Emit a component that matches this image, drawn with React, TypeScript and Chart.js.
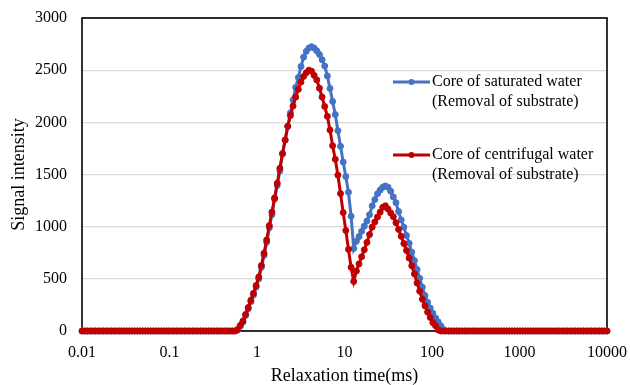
import { useEffect, useRef } from "react";
import { Chart, registerables } from "chart.js";

Chart.register(...registerables);

// T2 relaxation-time sampling grid (log-spaced between these bounds)
const T2_MIN = 0.01;
const T2_MAX = 10000;

const xTickValues = [0.01, 0.1, 1, 10, 100, 1000, 10000];
const yMax = 3000;
const yStep = 500;

const saturatedLegend = ["Core of saturated water", "(Removal of substrate)"];
const centrifugalLegend = ["Core of centrifugal water", "(Removal of substrate)"];

const BLUE = "#4472C4";
const RED = "#C00000";

// Signal intensity of the saturated core, one value per grid point
const saturatedWater = [
  0, 0, 0, 0, 0, 0, 0, 0, 0, 0,
  0, 0, 0, 0, 0, 0, 0, 0, 0, 0,
  0, 0, 0, 0, 0, 0, 0, 0, 0, 0,
  0, 0, 0, 0, 0, 0, 0, 0, 0, 0,
  0, 0, 0, 0, 0, 0, 0, 0, 0, 0,
  0, 0, 0, 0, 0, 0, 0, 0, 0,
  8, 45, 85, 148, 212, 280, 345, 420, 500, 610,
  725, 850, 990, 1115, 1265, 1395, 1535, 1700, 1830, 1965,
  2090, 2215, 2335, 2430, 2535, 2625, 2680, 2712, 2725, 2712,
  2685, 2650, 2600, 2540, 2445, 2325, 2200, 2075, 1920, 1770,
  1620, 1480, 1330, 1100, 790, 860, 905, 955, 1005, 1055,
  1115, 1200, 1260, 1315, 1350, 1378, 1390, 1378, 1340, 1285,
  1230, 1145, 1065, 995, 915, 840, 755, 675, 590, 505,
  420, 340, 275, 220, 170, 125, 88, 50, 15,
  0, 0, 0, 0, 0, 0, 0, 0, 0, 0,
  0, 0, 0, 0, 0, 0, 0, 0, 0, 0,
  0, 0, 0, 0, 0, 0, 0, 0, 0, 0,
  0, 0, 0, 0, 0, 0, 0, 0, 0, 0,
  0, 0, 0, 0, 0, 0, 0, 0, 0, 0,
  0, 0, 0, 0, 0, 0, 0, 0, 0, 0,
  0, 0,
];

// Signal intensity of the centrifuged core, same grid
const centrifugalWater = [
  0, 0, 0, 0, 0, 0, 0, 0, 0, 0,
  0, 0, 0, 0, 0, 0, 0, 0, 0, 0,
  0, 0, 0, 0, 0, 0, 0, 0, 0, 0,
  0, 0, 0, 0, 0, 0, 0, 0, 0, 0,
  0, 0, 0, 0, 0, 0, 0, 0, 0, 0,
  0, 0, 0, 0, 0, 0, 0, 0, 0,
  15, 54, 95, 159, 225, 294, 361, 436, 518, 628,
  745, 873, 1010, 1140, 1275, 1415, 1560, 1700, 1830, 1961,
  2065, 2156, 2243, 2316, 2386, 2440, 2475, 2500, 2490, 2450,
  2406, 2327, 2242, 2152, 2058, 1927, 1776, 1646, 1494, 1317,
  1135, 963, 782, 611, 475, 575, 643, 712, 779, 849,
  924, 996, 1045, 1093, 1139, 1185, 1200, 1170, 1132, 1096,
  1038, 974, 907, 838, 772, 699, 625, 547, 460, 382,
  304, 241, 181, 130, 80, 51, 10,
  0, 0, 0, 0, 0, 0, 0, 0, 0, 0,
  0, 0, 0, 0, 0, 0, 0, 0, 0, 0,
  0, 0, 0, 0, 0, 0, 0, 0, 0, 0,
  0, 0, 0, 0, 0, 0, 0, 0, 0, 0,
  0, 0, 0, 0, 0, 0, 0, 0, 0, 0,
  0, 0, 0, 0, 0, 0, 0, 0, 0, 0,
  0, 0, 0, 0,
];

const gridTimes = (n: number) =>
  Array.from({ length: n }, (_, i) => T2_MIN * Math.pow(T2_MAX / T2_MIN, i / (n - 1)));

const toPoints = (values: number[]) => {
  const times = gridTimes(values.length);
  return values.map((v, i) => ({ x: times[i], y: v }));
};

const SERIF = '"Liberation Serif", "Times New Roman", serif';

// Black frame around the plot area, drawn under the series
const framePlugin = {
  id: "plotFrame",
  beforeDatasetsDraw(chart: any) {
    const { ctx, chartArea } = chart;
    ctx.save();
    ctx.strokeStyle = "#000";
    ctx.lineWidth = 1.6;
    ctx.strokeRect(chartArea.left, chartArea.top, chartArea.right - chartArea.left, chartArea.bottom - chartArea.top);
    ctx.restore();
  },
};

// Legend placed inside the plot, two text lines per entry
const inlineLegendPlugin = {
  id: "inlineLegend",
  afterDraw(chart: any) {
    const { ctx, chartArea } = chart;
    const entries = [
      { lines: saturatedLegend, color: BLUE, dy: 64 },
      { lines: centrifugalLegend, color: RED, dy: 137 },
    ];
    ctx.save();
    ctx.font = `16px ${SERIF}`;
    ctx.textBaseline = "middle";
    ctx.textAlign = "left";
    entries.forEach((e) => {
      const y = chartArea.top + e.dy;
      const x0 = chartArea.right - 214;
      const x1 = chartArea.right - 177;
      ctx.strokeStyle = e.color;
      ctx.lineWidth = 3;
      ctx.beginPath();
      ctx.moveTo(x0, y);
      ctx.lineTo(x1, y);
      ctx.stroke();
      ctx.fillStyle = e.color;
      ctx.beginPath();
      ctx.arc((x0 + x1) / 2, y, 3, 0, Math.PI * 2);
      ctx.fill();
      ctx.fillStyle = "#000";
      e.lines.forEach((line, j) => ctx.fillText(line, x1 + 2, y + j * 19.5));
    });
    ctx.restore();
  },
};

export default function App() {
  const canvasRef = useRef<HTMLCanvasElement | null>(null);

  useEffect(() => {
    if (!canvasRef.current) return;
    const lineStyle = (color: string) => ({
      borderColor: color,
      backgroundColor: color,
      pointBackgroundColor: color,
      pointBorderColor: color,
      borderWidth: 3,
      pointRadius: 3,
      pointBorderWidth: 1,
      tension: 0,
      clip: false as const,
    });
    const chart = new Chart(canvasRef.current, {
      type: "line",
      data: {
        datasets: [
          { label: saturatedLegend.join(" "), data: toPoints(saturatedWater), order: 1, ...lineStyle(BLUE) },
          { label: centrifugalLegend.join(" "), data: toPoints(centrifugalWater), order: 0, ...lineStyle(RED) },
        ],
      },
      options: {
        responsive: false,
        animation: false,
        devicePixelRatio: 1,
        layout: { padding: { top: 18, right: 23, left: 0, bottom: 0 } },
        plugins: { legend: { display: false }, tooltip: { enabled: false } },
        scales: {
          x: {
            type: "logarithmic",
            min: T2_MIN,
            max: T2_MAX,
            afterBuildTicks: (scale: any) => {
              scale.ticks = xTickValues.map((v) => ({ value: v }));
            },
            afterFit: (scale: any) => {
              scale.height = 54;
              scale.paddingLeft = 0;
              scale.paddingRight = 0;
            },
            grid: { display: false, drawTicks: false },
            border: { display: false },
            ticks: {
              autoSkip: false,
              maxRotation: 0,
              padding: 12,
              color: "#000",
              font: { family: SERIF, size: 16 },
              callback: (v: any) => String(v),
            },
            title: {
              display: true,
              text: "Relaxation time(ms)",
              color: "#000",
              font: { family: SERIF, size: 18, lineHeight: 1 },
              padding: 0,
            },
          },
          y: {
            min: 0,
            max: yMax,
            afterFit: (scale: any) => {
              scale.width = 82;
              scale.paddingTop = 0;
              scale.paddingBottom = 0;
            },
            grid: { color: "#d9d9d9", lineWidth: 1.3, drawTicks: false },
            border: { display: false },
            ticks: {
              stepSize: yStep,
              padding: 15,
              color: "#000",
              font: { family: SERIF, size: 16 },
              callback: (v: any) => String(v),
            },
            title: {
              display: true,
              text: "Signal intensity",
              color: "#000",
              font: { family: SERIF, size: 18, lineHeight: 1 },
              padding: { top: 10, bottom: 0 },
            },
          },
        },
      },
      plugins: [framePlugin, inlineLegendPlugin],
    });
    return () => chart.destroy();
  }, []);

  return (
    <div style={{ position: "absolute", left: 0, top: 0, width: 630, height: 385, background: "#fff" }}>
      <canvas ref={canvasRef} width={630} height={385} />
    </div>
  );
}
